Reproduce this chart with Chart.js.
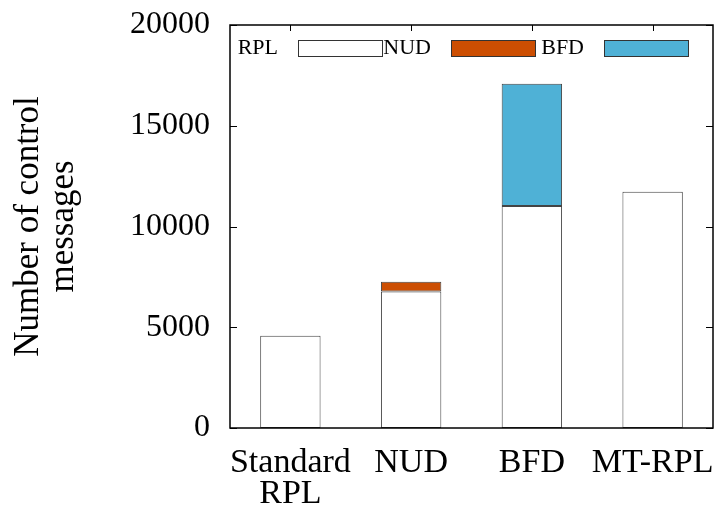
<!DOCTYPE html>
<html lang="en">
<head>
    <meta charset="UTF-8">
    <script src="https://cdn.jsdelivr.net/npm/chart.js"></script>
    <title>Control messages</title>
    <style>
        body {
            margin: 0;
            padding: 0;
            background: #fff;
        }
        .chart-box {
            width: 716px;
            height: 508px;
        }
    </style>
</head>
<body>
    <div class="chart-box">
        <canvas id="myChart" width="716" height="508"></canvas>
    </div>

    <script>
        // dados
        var categories = [['Standard', 'RPL'], 'NUD', 'BFD', 'MT-RPL'];
        var rplValues = [4580, 6780, 11020, 11730];
        var nudValues = [0, 480, 0, 0];
        var bfdValues = [0, 0, 6070, 0];
        var yTicks = [0, 5000, 10000, 15000, 20000];

        var serif = "'Liberation Serif', 'DejaVu Serif', serif";

        // moldura, ticks para dentro e legenda estilo gnuplot (texto antes da caixa)
        var gnuplotFrame = {
            id: 'gnuplotFrame',
            afterDraw: function(chart) {
                var c = chart.ctx;
                var a = chart.chartArea;
                var y = chart.scales.y;
                var x = chart.scales.x;
                c.save();
                c.strokeStyle = '#000';
                c.lineWidth = 1.5;
                c.strokeRect(a.left, a.top, a.right - a.left, a.bottom - a.top);

                c.lineWidth = 1;
                yTicks.forEach(function(v) {
                    var py = Math.round(y.getPixelForValue(v)) + 0.5;
                    c.beginPath();
                    c.moveTo(a.left, py); c.lineTo(a.left + 7, py);
                    c.moveTo(a.right, py); c.lineTo(a.right - 7, py);
                    c.stroke();
                });
                categories.forEach(function(cat, i) {
                    var px = Math.round(x.getPixelForValue(i)) + 0.5;
                    c.beginPath();
                    c.moveTo(px, a.top); c.lineTo(px, a.top + 6);
                    c.stroke();
                });

                // texto alinhado a direita, 20px antes da caixa
                c.font = '22px ' + serif;
                c.textBaseline = 'middle';
                c.textAlign = 'right';
                c.fillStyle = '#000';
                var ly = a.top + 23;
                var bx = a.left + 68;
                chart.data.datasets.forEach(function(ds) {
                    c.fillText(ds.label, bx - 20, ly);
                    c.fillStyle = ds.backgroundColor;
                    c.fillRect(bx, ly - 8, 84, 16);
                    c.strokeStyle = '#333';
                    c.strokeRect(bx + 0.5, ly - 7.5, 84, 16);
                    c.fillStyle = '#000';
                    bx += 153;
                });
                c.restore();
            }
        };

        var ctx = document.getElementById('myChart').getContext('2d');
        var myChart = new Chart(ctx, {
            type: 'bar',
            data: {
                labels: categories,
                datasets: [
                    { label: 'RPL', data: rplValues, backgroundColor: '#ffffff' },
                    { label: 'NUD', data: nudValues, backgroundColor: '#cc4e02' },
                    { label: 'BFD', data: bfdValues, backgroundColor: '#4fb1d6' }
                ]
            },
            options: {
                responsive: false,
                animation: false,
                layout: { padding: { top: 25, right: 3, left: 0, bottom: 0 } },
                datasets: {
                    bar: {
                        barPercentage: 0.5,
                        categoryPercentage: 1,
                        borderColor: '#444',
                        borderWidth: 1,
                        borderSkipped: false
                    }
                },
                plugins: {
                    legend: { display: false },
                    tooltip: { enabled: false }
                },
                scales: {
                    x: {
                        stacked: true,
                        grid: { display: false },
                        border: { display: false },
                        ticks: {
                            color: '#000',
                            font: { family: serif, size: 34, lineHeight: 0.9 },
                            padding: 12,
                            maxRotation: 0,
                            autoSkip: false
                        },
                        afterFit: function(scale) {
                            scale.height = 80;
                            scale.paddingLeft = 0;
                            scale.paddingRight = 0;
                        }
                    },
                    y: {
                        stacked: true,
                        min: 0,
                        max: 20000,
                        afterBuildTicks: function(scale) {
                            scale.ticks = yTicks.map(function(v) { return { value: v }; });
                        },
                        grid: { display: false, drawTicks: false },
                        border: { display: false },
                        ticks: {
                            color: '#000',
                            font: { family: serif, size: 32 },
                            padding: 20,
                            callback: function(v) { return String(v); }
                        },
                        title: {
                            display: true,
                            text: ['Number of control', 'messages'],
                            color: '#000',
                            font: { family: serif, size: 35, lineHeight: 1.0 },
                            padding: { top: 11, bottom: 10 }
                        },
                        afterFit: function(scale) {
                            scale.width = 230;
                            scale.paddingTop = 0;
                            scale.paddingBottom = 0;
                        }
                    }
                }
            },
            plugins: [gnuplotFrame]
        });
    </script>
</body>
</html>
